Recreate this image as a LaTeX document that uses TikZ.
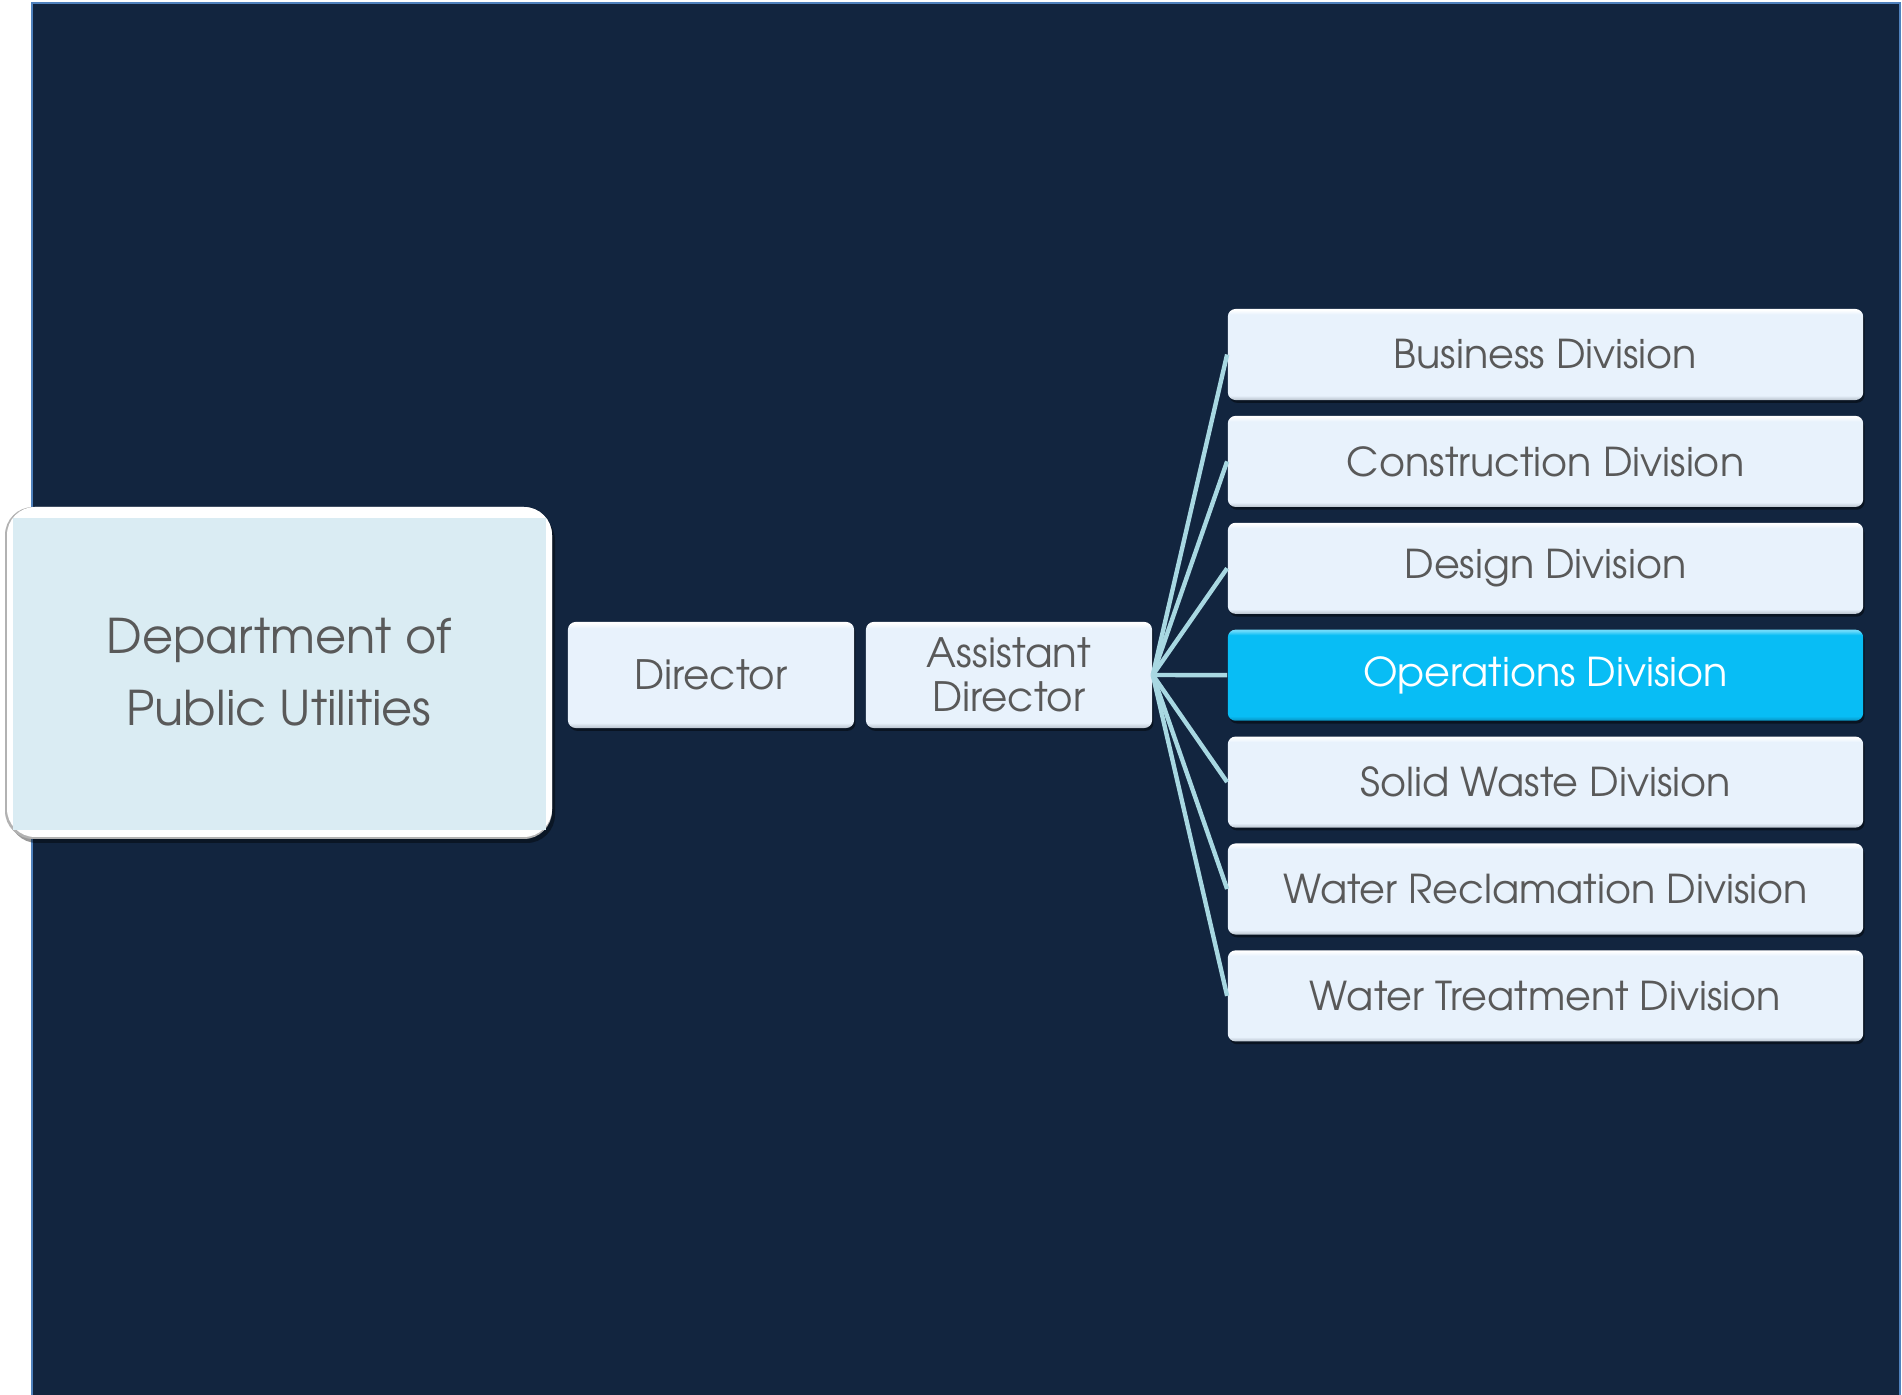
\documentclass[tikz,border=0pt]{standalone}
\usepackage{fontspec}
\setmainfont{TeX Gyre Adventor}
\usetikzlibrary{shadows}
\definecolor{bgnavy}{HTML}{12253F}
\definecolor{bgedge}{HTML}{4F81BD}
\definecolor{boxfill}{HTML}{E8F2FC}
\definecolor{boxbot}{HTML}{B9C3CE}
\definecolor{opfill}{HTML}{08BDF5}
\definecolor{opbot}{HTML}{0893C2}
\definecolor{optop}{HTML}{6FDBFB}
\definecolor{deptfill}{HTML}{DAECF3}
\definecolor{txtgray}{HTML}{595959}
\definecolor{linkblue}{HTML}{A8D8E2}
\pgfdeclareverticalshading{boxsh}{100bp}{color(0bp)=(boxbot); color(25bp)=(boxbot); color(27.5bp)=(boxfill); color(72bp)=(boxfill); color(74.5bp)=(white); color(100bp)=(white)}
\pgfdeclareverticalshading{opsh}{100bp}{color(0bp)=(opbot); color(25bp)=(opbot); color(27.5bp)=(opfill); color(72bp)=(opfill); color(74.5bp)=(optop); color(100bp)=(optop)}
\begin{document}
\begin{tikzpicture}[x=0.01cm,y=-0.01cm,
  boxstyle/.style={rectangle, rounded corners=2.2pt, shading=boxsh, text=txtgray,
    align=center, inner sep=0pt, font=\fontsize{11.3}{12}\selectfont,
    drop shadow={shadow xshift=0.4pt, shadow yshift=-0.8pt, opacity=0.45, fill=black}},
  divbox/.style={boxstyle, minimum width=6.35cm, minimum height=0.91cm},
  opbox/.style={divbox, shading=opsh, text=white},
  dirbox/.style={boxstyle, minimum width=2.86cm, minimum height=1.06cm, font=\fontsize{11.5}{12.6}\selectfont},
  link/.style={draw=linkblue, line width=1.25pt}]
\useasboundingbox (0,0) rectangle (1902,1395);
\fill[white] (0,0) rectangle (1902,1395);
\fill[bgnavy] (32,3) rectangle (1900,1400);
\draw[bgedge, line width=0.6pt] (32,1400) -- (32,3) -- (1900,3) -- (1900,1400);
% department
\fill[black, opacity=0.4, rounded corners=8pt] (9,512) rectangle (555,843);
\fill[gray!60, rounded corners=8pt] (5,507) rectangle (552,839);
\fill[white, rounded corners=8pt] (7,507) rectangle (552,837);
\fill[deptfill] (13,518) rectangle (546,830);
\node[text=txtgray, align=center, font=\fontsize{13.6}{20.5}\selectfont] (dept) at (279,672) {Department of\\Public Utilities};
% directors
\node[dirbox] (dir) at (711,675) {Director};
\node[dirbox] (adir) at (1009,675) {Assistant\\Director};
% divisions
\node[divbox] (d1) at (1545.5,354.5) {Business Division};
\node[divbox] (d2) at (1545.5,461.4) {Construction Division};
\node[divbox] (d3) at (1545.5,568.3) {Design Division};
\node[opbox] (d4) at (1545.5,675.2) {Operations Division};
\node[divbox] (d5) at (1545.5,782.1) {Solid Waste Division};
\node[divbox] (d6) at (1545.5,889.0) {Water Reclamation Division};
\node[divbox] (d7) at (1545.5,995.9) {Water Treatment Division};
\foreach \d in {d1,d2,d3,d4,d5,d6,d7}{
  \draw[link] (adir.east) -- (\d.west);
}
\end{tikzpicture}
\end{document}
